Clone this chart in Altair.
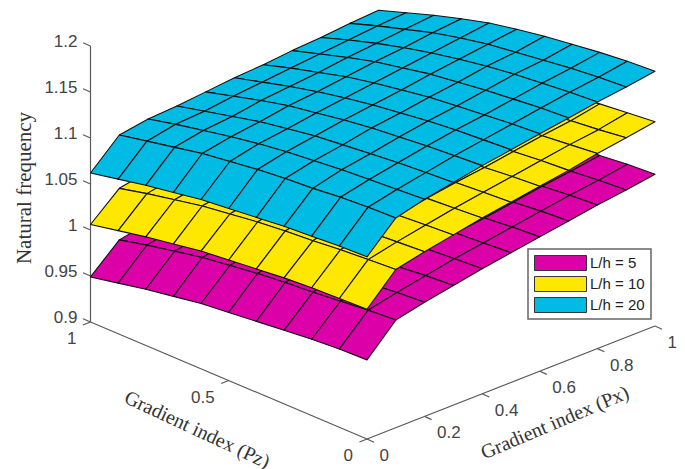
import altair as alt

grid_px = [0, 0.1, 0.2, 0.3, 0.4, 0.5, 0.6, 0.7, 0.8, 0.9, 1]
grid_pz = [1, 0.9, 0.8, 0.7, 0.6, 0.5, 0.4, 0.3, 0.2, 0.1, 0]

# rows: Px ascending, columns: Pz from 1 down to 0
lh20 = [
    [1.062, 1.068, 1.074, 1.079, 1.084, 1.087, 1.090, 1.093, 1.095, 1.097, 1.098],
    [1.091, 1.097, 1.103, 1.109, 1.113, 1.117, 1.120, 1.122, 1.125, 1.127, 1.128],
    [1.096, 1.103, 1.109, 1.115, 1.120, 1.124, 1.127, 1.130, 1.132, 1.134, 1.136],
    [1.098, 1.105, 1.112, 1.119, 1.124, 1.129, 1.132, 1.135, 1.138, 1.140, 1.142],
    [1.101, 1.109, 1.117, 1.124, 1.129, 1.134, 1.138, 1.141, 1.144, 1.146, 1.148],
    [1.104, 1.112, 1.120, 1.127, 1.133, 1.138, 1.142, 1.146, 1.149, 1.151, 1.153],
    [1.106, 1.115, 1.123, 1.131, 1.137, 1.142, 1.147, 1.150, 1.153, 1.156, 1.158],
    [1.109, 1.118, 1.127, 1.135, 1.141, 1.147, 1.151, 1.155, 1.158, 1.161, 1.163],
    [1.111, 1.121, 1.130, 1.138, 1.145, 1.151, 1.156, 1.160, 1.163, 1.166, 1.168],
    [1.114, 1.124, 1.133, 1.142, 1.149, 1.155, 1.159, 1.163, 1.167, 1.170, 1.172],
    [1.116, 1.126, 1.136, 1.145, 1.153, 1.159, 1.164, 1.168, 1.172, 1.175, 1.177],
]
lh10 = [
    [1.006, 1.012, 1.018, 1.023, 1.028, 1.031, 1.034, 1.037, 1.039, 1.040, 1.041],
    [1.033, 1.040, 1.046, 1.052, 1.056, 1.060, 1.063, 1.065, 1.068, 1.070, 1.072],
    [1.039, 1.046, 1.052, 1.058, 1.063, 1.067, 1.070, 1.073, 1.075, 1.077, 1.079],
    [1.041, 1.048, 1.055, 1.062, 1.067, 1.072, 1.075, 1.078, 1.081, 1.083, 1.085],
    [1.044, 1.052, 1.060, 1.067, 1.072, 1.077, 1.081, 1.084, 1.087, 1.089, 1.091],
    [1.047, 1.055, 1.063, 1.070, 1.076, 1.081, 1.085, 1.089, 1.092, 1.094, 1.096],
    [1.049, 1.058, 1.066, 1.074, 1.080, 1.085, 1.090, 1.093, 1.096, 1.099, 1.101],
    [1.052, 1.061, 1.070, 1.078, 1.084, 1.090, 1.094, 1.098, 1.101, 1.104, 1.106],
    [1.054, 1.064, 1.073, 1.081, 1.088, 1.094, 1.099, 1.103, 1.106, 1.109, 1.112],
    [1.057, 1.067, 1.076, 1.085, 1.092, 1.098, 1.102, 1.106, 1.110, 1.113, 1.117],
    [1.060, 1.070, 1.080, 1.089, 1.097, 1.103, 1.108, 1.112, 1.116, 1.119, 1.122],
]
lh5 = [
    [0.949, 0.955, 0.961, 0.966, 0.971, 0.974, 0.977, 0.980, 0.983, 0.985, 0.986],
    [0.977, 0.984, 0.990, 0.996, 1.000, 1.004, 1.007, 1.009, 1.012, 1.015, 1.017],
    [0.983, 0.990, 0.996, 1.002, 1.007, 1.011, 1.014, 1.017, 1.019, 1.022, 1.024],
    [0.985, 0.992, 0.999, 1.006, 1.011, 1.016, 1.019, 1.022, 1.025, 1.028, 1.030],
    [0.988, 0.996, 1.004, 1.011, 1.016, 1.021, 1.025, 1.028, 1.032, 1.034, 1.036],
    [0.991, 0.999, 1.007, 1.014, 1.020, 1.025, 1.029, 1.033, 1.037, 1.039, 1.041],
    [0.993, 1.002, 1.010, 1.018, 1.024, 1.029, 1.034, 1.038, 1.041, 1.044, 1.046],
    [0.996, 1.005, 1.014, 1.022, 1.028, 1.034, 1.038, 1.042, 1.046, 1.049, 1.051],
    [0.998, 1.008, 1.017, 1.025, 1.032, 1.038, 1.043, 1.047, 1.051, 1.054, 1.056],
    [1.001, 1.011, 1.020, 1.029, 1.036, 1.042, 1.046, 1.051, 1.055, 1.058, 1.060],
    [1.004, 1.014, 1.024, 1.033, 1.041, 1.047, 1.052, 1.056, 1.060, 1.063, 1.065],
]

series_names = ["L/h = 5", "L/h = 10", "L/h = 20"]
series_colors = ["#DC00A8", "#FFE800", "#00BBE3"]
z_ticks = [0.9, 0.95, 1, 1.05, 1.1, 1.15, 1.2]
pz_ticks = [1, 0.5, 0]
px_ticks = [0, 0.2, 0.4, 0.6, 0.8, 1]
Z_BASE = 0.9
Z_TOP = 1.2


def project(px, pz, z):
    """Oblique view of the 3-D box, as seen in the reference."""
    t = 1 - pz
    return (82.5 + 288 * px + 276.5 * t, 314 - 113 * px + 117 * t - 920 * (z - Z_BASE))


def lonlat(px, pz, z, dx=0, dy=0):
    x, y = project(px, pz, z)
    return {"lon": x + dx, "lat": y + dy}


features = []
for name, table in zip(series_names, [lh5, lh10, lh20]):
    for i in range(len(grid_px) - 2, -1, -1):
        for j in range(len(grid_pz) - 1):
            corners = [(i, j), (i + 1, j), (i + 1, j + 1), (i, j + 1), (i, j)]
            ring = [list(project(grid_px[a], grid_pz[b], table[a][b])) for a, b in corners]
            features.append({
                "type": "Feature",
                "properties": {"series": name},
                "geometry": {"type": "Polygon", "coordinates": [ring]},
            })

axis_rows = []
seg = 0


def add_seg(p, q):
    global seg
    axis_rows.append({**p, "seg": seg, "o": 0})
    axis_rows.append({**q, "seg": seg, "o": 1})
    seg += 1


add_seg(lonlat(0, 1, Z_BASE), lonlat(0, 1, Z_TOP))
add_seg(lonlat(0, 1, Z_BASE), lonlat(0, 0, Z_BASE))
add_seg(lonlat(0, 0, Z_BASE), lonlat(1, 0, Z_BASE))
for v in z_ticks:
    add_seg(lonlat(0, 1, v), lonlat(0, 1, v, -7.5, -3.2))
for v in pz_ticks:
    add_seg(lonlat(0, v, Z_BASE), lonlat(0, v, Z_BASE, -7.5, 3))
for v in px_ticks:
    add_seg(lonlat(v, 0, Z_BASE), lonlat(v, 0, Z_BASE, 7, 3.2))

z_rows = [{**lonlat(0, 1, v, -13, -4), "t": str(v) if v != 1 else "1"} for v in z_ticks]
pz_rows = [{**lonlat(0, v, Z_BASE, -14, 17), "t": str(v)} for v in pz_ticks]
px_rows = [{**lonlat(v, 0, Z_BASE, 12.5, 17), "t": str(v)} for v in px_ticks]

proj = dict(type="identity", scale=1, translate=[0, 0])
tick_color = "#444444"

surfaces = (
    alt.Chart(alt.Data(values=features))
    .mark_geoshape(stroke="#111111", strokeWidth=1.1, strokeJoin="round")
    .encode(
        color=alt.Color(
            "properties.series:N",
            scale=alt.Scale(domain=series_names, range=series_colors),
            legend=alt.Legend(
                title=None,
                orient="none",
                legendX=520,
                legendY=241,
                padding=6,
                fillColor="white",
                strokeColor="#666666",
                symbolType="M-1,-0.29H1V0.29H-1Z",
                symbolSize=2704,
                symbolStrokeColor="#333333",
                symbolStrokeWidth=1,
                clipHeight=16,
                rowPadding=5,
                labelFont="Liberation Sans",
                labelFontSize=15,
                labelColor="#222222",
                labelOffset=3,
            ),
        )
    )
    .project(**proj)
)

axes = (
    alt.Chart(alt.Data(values=axis_rows))
    .mark_line(color="#5a5a5a", strokeWidth=1.2)
    .encode(
        longitude="lon:Q",
        latitude="lat:Q",
        detail="seg:N",
        order="o:Q",
    )
    .project(**proj)
)


def tick_text(rows, align):
    return (
        alt.Chart(alt.Data(values=rows))
        .mark_text(align=align, baseline="middle", font="Liberation Sans", fontSize=17, color=tick_color)
        .encode(longitude="lon:Q", latitude="lat:Q", text="t:N")
        .project(**proj)
    )


def title_text(label, x, y, angle, size):
    return (
        alt.Chart(alt.Data(values=[{"lon": x, "lat": y, "t": label}]))
        .mark_text(align="center", baseline="middle", font="Liberation Serif", fontSize=size, angle=angle, color="#333333")
        .encode(longitude="lon:Q", latitude="lat:Q", text="t:N")
        .project(**proj)
    )


chart = alt.layer(
    axes,
    surfaces,
    tick_text(z_rows, "right"),
    tick_text(pz_rows, "right"),
    tick_text(px_rows, "left"),
    title_text("Natural frequency", 17, 180, 270, 21),
    title_text("Gradient index (Pz)", 189, 422, 25, 20),
    title_text("Gradient index (Px)", 547, 415, 337, 20),
).properties(width=669, height=461, padding=0, autosize=alt.AutoSizeParams(type="none")).configure_view(stroke=None).configure_legend(strokeWidth=1.5)

chart.save("out.html", embed_options={"renderer": "svg", "actions": False})
